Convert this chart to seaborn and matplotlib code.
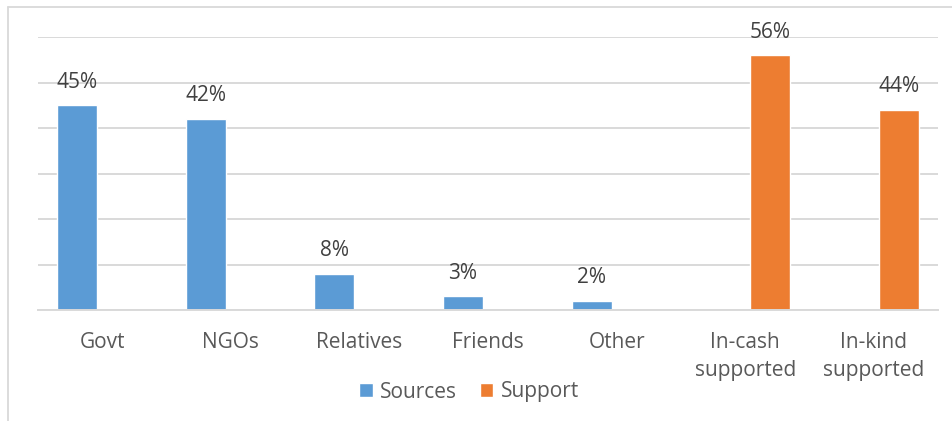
import matplotlib
matplotlib.use("Agg")
import matplotlib.pyplot as plt
import seaborn as sns
import pandas as pd
from matplotlib.lines import Line2D

# Categories and series values (percent)
categories = ["Govt", "NGOs", "Relatives", "Friends", "Other",
              "In-cash\nsupported", "In-kind\nsupported"]
sources = [45, 42, 8, 3, 2, None, None]
support = [None, None, None, None, None, 56, 44]
series_names = ["Sources", "Support"]
palette = {"Sources": "#5B9BD5", "Support": "#ED7D31"}

rows = []
for cat, s, p in zip(categories, sources, support):
    if s is not None:
        rows.append({"category": cat, "series": "Sources", "value": s})
    if p is not None:
        rows.append({"category": cat, "series": "Support", "value": p})
df = pd.DataFrame(rows)

sns.set_theme(style="white")
plt.rcParams["font.family"] = ["Open Sans", "DejaVu Sans"]

W, H = 953, 421
fig = plt.figure(figsize=(W / 100, H / 100), dpi=100)
ax = fig.add_axes([38 / W, (H - 310) / H, 900 / W, 273 / H])

sns.barplot(data=df, x="category", y="value", hue="series",
            order=categories, hue_order=series_names, palette=palette,
            width=0.778, gap=0.2, dodge=True, saturation=1,
            errorbar=None, ax=ax, legend=True)

ax.set_ylim(0, 60)
ax.set_xlim(-0.5, len(categories) - 0.5)
ax.set_yticks(range(0, 61, 10))
ax.set_yticklabels([])
ax.tick_params(axis="y", length=0)
ax.yaxis.grid(True, color="#D9D9D9", linewidth=1.4)
ax.set_axisbelow(True)
for side in ["left", "right", "top"]:
    ax.spines[side].set_visible(False)
ax.spines["bottom"].set_color("#D9D9D9")
ax.spines["bottom"].set_linewidth(1.4)
ax.set_xlabel("")
ax.set_ylabel("")
ax.tick_params(axis="x", length=0, pad=16, labelsize=15, labelcolor="#595959")
for lab in ax.get_xticklabels():
    lab.set_linespacing(1.4)
    lab.set_verticalalignment("top")

for cont in ax.containers:
    ax.bar_label(cont, fmt="{:.0f}%", padding=9, fontsize=15, color="#404040")

leg = ax.legend(loc="center", bbox_to_anchor=(469 / W, (H - 392) / H),
                bbox_transform=fig.transFigure, ncol=2, frameon=False,
                fontsize=15, handlelength=0.65, handleheight=0.65,
                handletextpad=0.35, columnspacing=1.1)
for t in leg.get_texts():
    t.set_color("#595959")

# chart frame (left and top edges)
fig.add_artist(Line2D([8 / W, 8 / W], [0, (H - 7) / H], transform=fig.transFigure,
                      color="#D9D9D9", linewidth=1.3))
fig.add_artist(Line2D([8 / W, 1], [(H - 7) / H, (H - 7) / H], transform=fig.transFigure,
                      color="#D9D9D9", linewidth=1.3))

fig.savefig("out.png", dpi=100, facecolor="white")
